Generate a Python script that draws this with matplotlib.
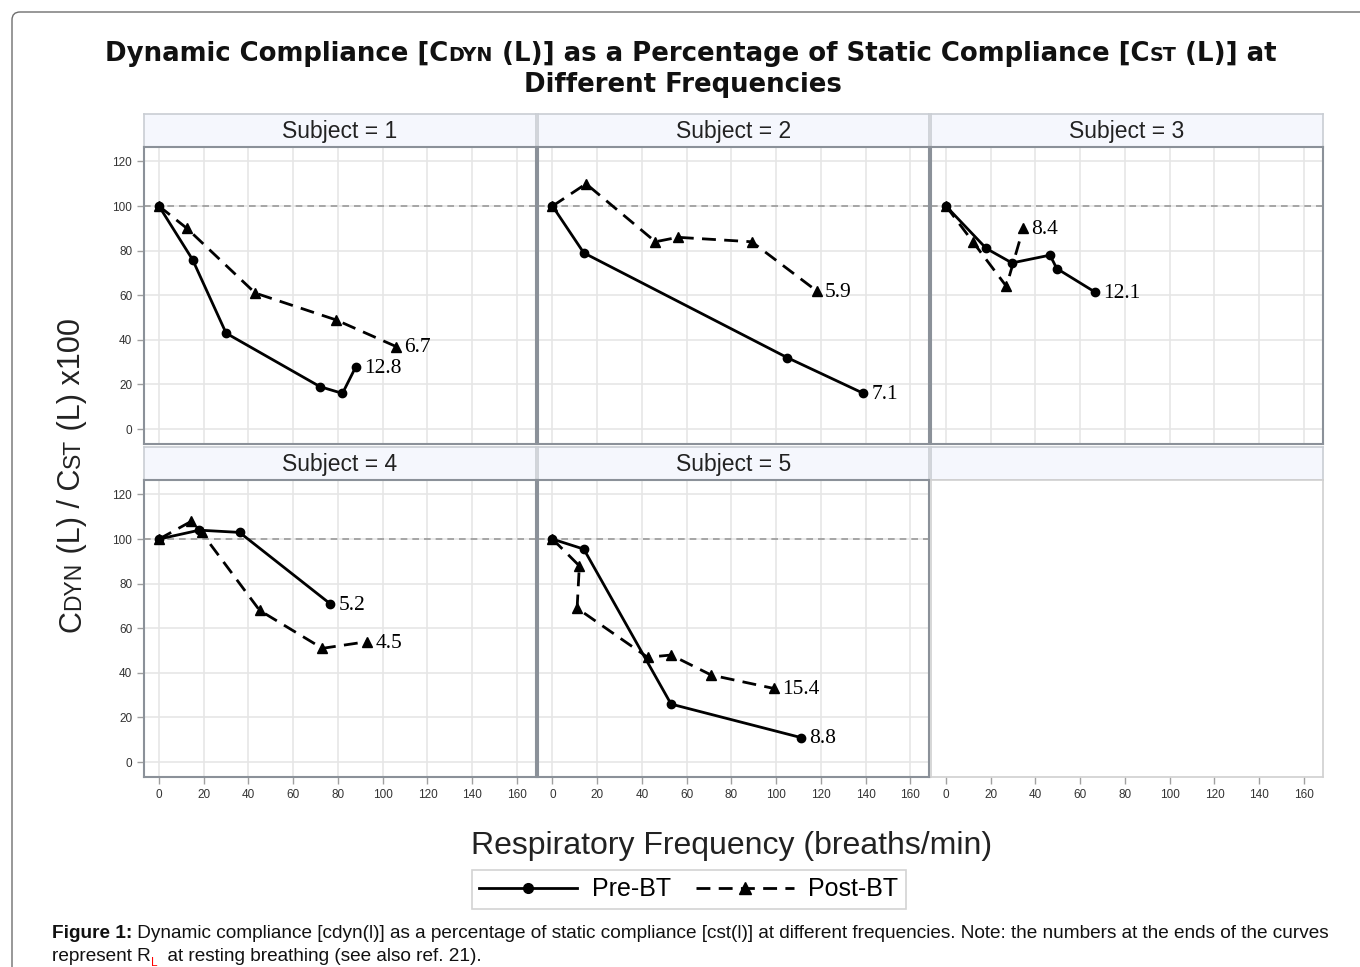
import matplotlib.pyplot as plt
from matplotlib.lines import Line2D
from matplotlib.patches import FancyBboxPatch
from matplotlib.transforms import IdentityTransform

# --- data ---
subjects = [1, 2, 3, 4, 5]

pre_x = [
    [0, 15, 30, 72, 82, 88],
    [0, 14, 105, 139],
    [0, 18, 29.5, 46.5, 49.5, 66.5],
    [0, 18, 36, 76.5],
    [0, 14, 53, 111],
]
pre_y = [
    [100, 76, 43, 19, 16, 28],
    [100, 79, 32, 16],
    [100, 81, 74.5, 78, 72, 61.5],
    [100, 104, 103, 71],
    [100, 95.5, 26, 11],
]
post_x = [
    [0, 12.5, 43, 79, 106],
    [0, 15, 46, 56, 89, 118],
    [0, 12, 27, 34.5],
    [0, 14.5, 19, 45, 73, 93],
    [0, 12, 11, 42.5, 53, 71, 99],
]
post_y = [
    [100, 90, 61, 49, 37],
    [100, 110, 84, 86, 84, 62],
    [100, 84, 64, 90],
    [100, 108, 103, 68, 51, 54],
    [100, 88, 69, 47, 48, 39, 33],
]
pre_rl = ['12.8', '7.1', '12.1', '5.2', '8.8']
post_rl = ['6.7', '5.9', '8.4', '4.5', '15.4']

xticks = [0, 20, 40, 60, 80, 100, 120, 140, 160]
yticks = [0, 20, 40, 60, 80, 100, 120]

W, H = 1360, 967
fig = plt.figure(figsize=(W / 100, H / 100), dpi=100)
fig.patch.set_facecolor('white')

# outer rounded frame
frame = FancyBboxPatch((12, -60), W + 60, H - 12 + 60, boxstyle='round,pad=0,rounding_size=8',
                       transform=IdentityTransform(), fill=False, ec='#6e6e6e', lw=1)
fig.patches.append(frame)


def px_axes(l, t, w, h):
    return fig.add_axes([l / W, 1 - (t + h) / H, w / W, h / H])


def mixed(x, y, pieces, vertical=False, center=True):
    # draws a row of text pieces of different sizes on a shared baseline (pixel coords, y from top)
    r = fig.canvas.get_renderer()
    widths = []
    for s, kw in pieces:
        kw = {k: v for k, v in kw.items() if k != 'dy'}
        t1 = fig.text(0, 0, '|' + s + '|', **kw)
        t2 = fig.text(0, 0, '||', **kw)
        widths.append(t1.get_window_extent(r).width - t2.get_window_extent(r).width)
        t1.remove()
        t2.remove()
    total = sum(widths)
    if vertical:
        pos = (H - y) - total / 2 if center else H - y
    else:
        pos = x - total / 2 if center else x
    for (s, kw), w in zip(pieces, widths):
        kw = dict(kw)
        dy = kw.pop('dy', 0)
        if vertical:
            fig.text(x - dy, pos, s, transform=IdentityTransform(), ha='left', va='baseline',
                     rotation=90, rotation_mode='anchor', **kw)
        else:
            fig.text(pos, H - y - dy, s, transform=IdentityTransform(), ha='left',
                     va='baseline', **kw)
        pos += w


# title
tb = dict(family='DejaVu Sans', weight='bold', size=18.7, color='#111111')
ts = dict(tb, size=13.8)
mixed(691, 61, [('Dynamic Compliance [C', tb), ('DYN', ts),
                (' (L)] as a Percentage of Static Compliance [C', tb), ('ST', ts),
                (' (L)] at', tb)])
mixed(683, 92, [('Different Frequencies', tb)])

col_left = [144, 537.5, 931]
col_w = 392
row_strip_top = [114, 447]
strip_h = 33
plot_h = 297

for k in range(6):
    row, col = divmod(k, 3)
    left = col_left[col]
    top = row_strip_top[row]
    st = px_axes(left, top, col_w, strip_h)
    st.set_facecolor('#f5f7fd')
    st.set_xticks([])
    st.set_yticks([])
    for sp in st.spines.values():
        sp.set_color('#c9cdd3')
        sp.set_linewidth(1.2)

    ax = px_axes(left, top + strip_h, col_w, plot_h)
    ax.set_xlim(-6.7, 168.5)
    ax.set_ylim(-6.7, 126.5)
    ax.set_xticks(xticks)
    ax.set_yticks(yticks)
    ax.tick_params(length=5, color='#a0a0a0', width=1, labelsize=8.5, labelcolor='#333333')
    for lab in ax.get_xticklabels() + ax.get_yticklabels():
        lab.set_family('Liberation Sans')
    if col != 0:
        ax.tick_params(axis='y', left=False, labelleft=False)
    if row == 0:
        ax.tick_params(axis='x', bottom=False, labelbottom=False)

    if k == 5:
        for sp in ax.spines.values():
            sp.set_color('#d0d0d0')
            sp.set_linewidth(1.2)
        continue

    st.text(0.5, 0.48, 'Subject = %d' % subjects[k], transform=st.transAxes, ha='center',
            va='center', family='Liberation Sans', size=16.5, color='#222222')

    ax.grid(True, color='#e6e6e6', lw=1.2)
    ax.set_axisbelow(True)
    for sp in ax.spines.values():
        sp.set_color('#8b9199')
        sp.set_linewidth(1.5)
    ax.axhline(100, color='#9a9a9a', lw=1.2, dashes=(4, 3))

    ax.plot(pre_x[k], pre_y[k], color='black', lw=2, marker='o', ms=6)
    ax.plot(post_x[k], post_y[k], color='black', lw=2, dashes=(5, 3), marker='^', ms=7)
    ax.annotate(pre_rl[k], (pre_x[k][-1], pre_y[k][-1]), xytext=(6, -1), textcoords='offset points',
                va='center', ha='left', family='Liberation Serif', size=15.5)
    ax.annotate(post_rl[k], (post_x[k][-1], post_y[k][-1]), xytext=(6, -1),
                textcoords='offset points', va='center', ha='left', family='Liberation Serif',
                size=15.5)

# axis labels
lb = dict(family='Liberation Sans', size=22, color='#222222')
lsm = dict(lb, size=16.5)
mixed(80, 475, [('C', lb), ('DYN', lsm), (' (L) / C', lb), ('ST', lsm), (' (L) x100', lb)],
      vertical=True)
fig.text(732 / W, 1 - 846 / H, 'Respiratory Frequency (breaths/min)', ha='center', va='center',
         **dict(lb, size=23))

# legend
handles = [Line2D([], [], color='black', lw=2, marker='o', ms=7),
           Line2D([], [], color='black', lw=2, dashes=(5, 3), marker='^', ms=8)]
leg = fig.legend(handles, ['Pre-BT', 'Post-BT'], loc='center', bbox_to_anchor=(689 / W, 1 - 889.5 / H),
                 ncol=2, frameon=True, fancybox=False, handlelength=3.9, columnspacing=1.0,
                 handletextpad=0.6, borderpad=0.3, prop={'family': 'Liberation Sans', 'size': 18})
leg.get_frame().set_edgecolor('#c8c8c8')
leg.get_frame().set_linewidth(1.2)

# caption
cb = dict(family='Liberation Sans', size=13.7, color='#111111')
mixed(52, 938, [('Figure 1:', dict(cb, weight='bold')),
                (' Dynamic compliance [cdyn(l)] as a percentage of static compliance [cst(l)] at '
                 'different frequencies. Note: the numbers at the ends of the curves', cb)],
      center=False)
mixed(52, 961, [('represent R', cb), ('L', dict(cb, size=8.5, color='red', dy=5)),
                ('  at resting breathing (see also ref. 21).', cb)], center=False)

fig.savefig('out.png', dpi=100)
